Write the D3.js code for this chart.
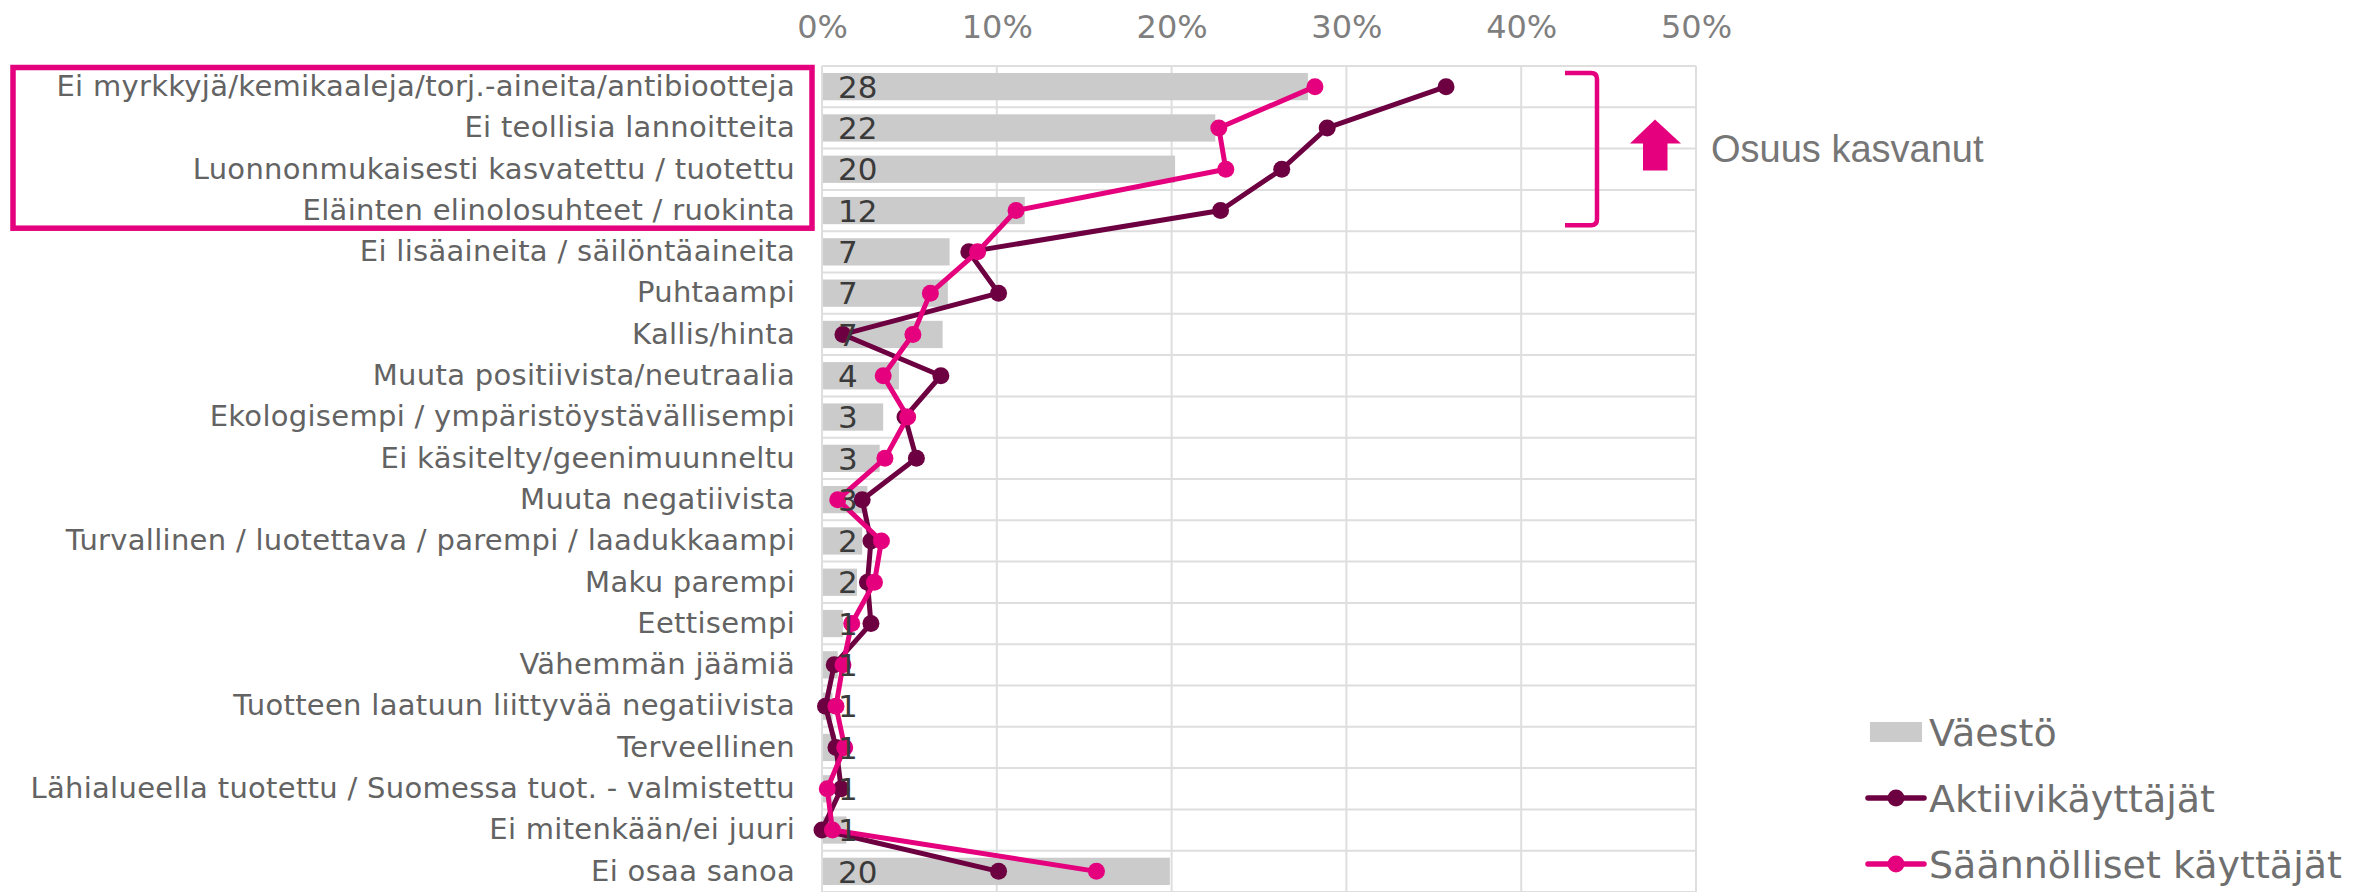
<!DOCTYPE html>
<html>
<head>
<meta charset="utf-8">
<title>Luomu mielikuvat</title>
<script src="https://d3js.org/d3.v7.min.js"></script>
<style>
  html, body { margin: 0; padding: 0; background: #fff; }
  svg { display: block; }
  text { font-family: "DejaVu Sans", Verdana, sans-serif; }
</style>
</head>
<body>
<div id="chart"></div>
<script>
// categories, top to bottom
var categories = [
  "Ei myrkkyjä/kemikaaleja/torj.-aineita/antibiootteja",
  "Ei teollisia lannoitteita",
  "Luonnonmukaisesti kasvatettu / tuotettu",
  "Eläinten elinolosuhteet / ruokinta",
  "Ei lisäaineita / säilöntäaineita",
  "Puhtaampi",
  "Kallis/hinta",
  "Muuta positiivista/neutraalia",
  "Ekologisempi / ympäristöystävällisempi",
  "Ei käsitelty/geenimuunneltu",
  "Muuta negatiivista",
  "Turvallinen / luotettava / parempi / laadukkaampi",
  "Maku parempi",
  "Eettisempi",
  "Vähemmän jäämiä",
  "Tuotteen laatuun liittyvää negatiivista",
  "Terveellinen",
  "Lähialueella tuotettu / Suomessa tuot. - valmistettu",
  "Ei mitenkään/ei juuri",
  "Ei osaa sanoa"
];

// Väestö (bars), %
var vaesto = [27.8, 22.5, 20.2, 11.6, 7.3, 7.2, 6.9, 4.4, 3.5, 3.3, 2.6, 2.3, 2.0, 1.2, 0.9, 0.6, 0.8, 0.6, 1.4, 19.9];
// data labels shown on the bars
var vaestoLabels = [28, 22, 20, 12, 7, 7, 7, 4, 3, 3, 3, 2, 2, 1, 1, 1, 1, 1, 1, 20];
// Aktiivikäyttäjät, %
var aktiivi = [35.7, 28.9, 26.3, 22.8, 8.4, 10.1, 1.2, 6.8, 4.75, 5.4, 2.3, 2.8, 2.6, 2.8, 0.7, 0.2, 0.8, 1.1, 0.0, 10.1];
// Säännölliset käyttäjät, %
var saannolliset = [28.2, 22.7, 23.1, 11.1, 8.9, 6.2, 5.2, 3.5, 4.9, 3.6, 0.9, 3.4, 3.0, 1.7, 1.2, 0.8, 1.3, 0.3, 0.6, 15.7];

var xTicks = [0, 10, 20, 30, 40, 50];
var legendNames = ["Väestö", "Aktiivikäyttäjät", "Säännölliset käyttäjät"];
var noteText = "Osuus kasvanut";

var W = 2364, H = 892;
var colBar = "#cbcbcb", colDark = "#6d0041", colPink = "#e5007d";
var colGrid = "#dedede";

var svg = d3.select("#chart").append("svg")
  .attr("width", W).attr("height", H);

var x = d3.scaleLinear().domain([0, 50]).range([822, 1696]);
var y = d3.scaleBand().domain(categories).range([66, 66 + 41.3 * 20]).paddingInner(0.34).paddingOuter(0.17);
var rowStep = y.step();

// grid: vertical lines
svg.append("g").selectAll("line").data(xTicks).join("line")
  .attr("x1", function(d) { return x(d); }).attr("x2", function(d) { return x(d); })
  .attr("y1", 66).attr("y2", H)
  .attr("stroke", colGrid).attr("stroke-width", 2);

// grid: horizontal band borders
var borders = d3.range(categories.length + 1);
svg.append("g").selectAll("line").data(borders).join("line")
  .attr("x1", x(0)).attr("x2", x(50))
  .attr("y1", function(i) { return 66 + i * rowStep; })
  .attr("y2", function(i) { return 66 + i * rowStep; })
  .attr("stroke", colGrid).attr("stroke-width", 2);

// top axis
var xAxis = d3.axisTop(x).tickValues(xTicks).tickFormat(function(d) { return d + "%"; }).tickSize(0).tickPadding(0);
var ax = svg.append("g").attr("transform", "translate(0,38)").call(xAxis);
ax.select(".domain").remove();
ax.selectAll("text").attr("fill", "#7f7f7f").style("font-size", "32px").attr("dy", 0)
  .style("font-family", "DejaVu Sans");

// category labels
var yAxis = d3.axisLeft(y).tickSize(0).tickPadding(0);
var ay = svg.append("g").attr("transform", "translate(795,0)").call(yAxis);
ay.select(".domain").remove();
ay.selectAll("text").attr("fill", "#636363").style("font-size", "29px")
  .style("letter-spacing", "0.3px")
  .style("font-family", "DejaVu Sans");

// bars
svg.append("g").selectAll("rect").data(vaesto).join("rect")
  .attr("x", x(0) + 1)
  .attr("y", function(d, i) { return y(categories[i]); })
  .attr("width", function(d) { return x(d) - x(0) - 1; })
  .attr("height", y.bandwidth())
  .attr("fill", colBar);

// lines
function drawSeries(vals, col) {
  var line = d3.line()
    .x(function(d) { return x(d); })
    .y(function(d, i) { return y(categories[i]) + y.bandwidth() / 2; });
  svg.append("path").datum(vals)
    .attr("d", line).attr("fill", "none")
    .attr("stroke", col).attr("stroke-width", 5).attr("stroke-linejoin", "round");
  svg.append("g").selectAll("circle").data(vals).join("circle")
    .attr("cx", function(d) { return x(d); })
    .attr("cy", function(d, i) { return y(categories[i]) + y.bandwidth() / 2; })
    .attr("r", 8.5).attr("fill", col);
}
drawSeries(aktiivi, colDark);
drawSeries(saannolliset, colPink);

// data labels
svg.append("g").selectAll("text").data(vaestoLabels).join("text")
  .attr("x", x(0) + 16)
  .attr("y", function(d, i) { return y(categories[i]) + y.bandwidth() / 2; })
  .attr("dy", "0.36em")
  .attr("fill", "#3a3a3a").style("font-size", "31px")
  .text(function(d) { return d; });

// highlight box around first four categories
var boxTop = y(categories[0]) - y.paddingOuter() * rowStep;
var boxBot = boxTop + 4 * rowStep;
svg.append("rect")
  .attr("x", 13).attr("y", boxTop + 1.5)
  .attr("width", 799).attr("height", boxBot - boxTop - 4.5)
  .attr("fill", "none").attr("stroke", colPink).attr("stroke-width", 5.5);

// bracket
var bTop = boxTop + 7, bBot = boxBot - 6;
svg.append("path")
  .attr("d", "M1565," + bTop + " L1591," + bTop + " Q1597," + bTop + " 1597," + (bTop + 6) +
        " L1597," + (bBot - 6) + " Q1597," + bBot + " 1591," + bBot + " L1565," + bBot)
  .attr("fill", "none").attr("stroke", colPink).attr("stroke-width", 4.5);

// arrow
var aMid = boxTop + 2 * rowStep;
svg.append("path")
  .attr("d", "M1655," + (aMid - 29) + " L1681," + (aMid - 5) + " L1667.5," + (aMid - 5) +
        " L1667.5," + (aMid + 22) + " L1643," + (aMid + 22) + " L1643," + (aMid - 5) +
        " L1630," + (aMid - 5) + " Z")
  .attr("fill", colPink);

svg.append("text")
  .attr("x", 1711).attr("y", aMid).attr("dy", "0.36em")
  .style("font-family", "Liberation Sans, Arial, sans-serif")
  .style("font-size", "38px").attr("fill", "#767676")
  .text(noteText);

// legend
var legY = [732, 798, 864];
var lg = svg.append("g");
lg.append("rect").attr("x", 1870).attr("y", legY[0] - 10).attr("width", 52).attr("height", 20).attr("fill", colBar);
[colDark, colPink].forEach(function(c, k) {
  lg.append("line").attr("x1", 1868).attr("x2", 1924)
    .attr("y1", legY[k + 1]).attr("y2", legY[k + 1])
    .attr("stroke", c).attr("stroke-width", 5.5).attr("stroke-linecap", "round");
  lg.append("circle").attr("cx", 1896).attr("cy", legY[k + 1]).attr("r", 8.5).attr("fill", c);
});
lg.selectAll("text").data(legendNames).join("text")
  .attr("x", 1929).attr("y", function(d, i) { return legY[i]; })
  .attr("dy", "0.36em")
  .style("font-size", "38px").attr("fill", "#6f6f6f")
  .text(function(d) { return d; });
</script>
</body>
</html>
